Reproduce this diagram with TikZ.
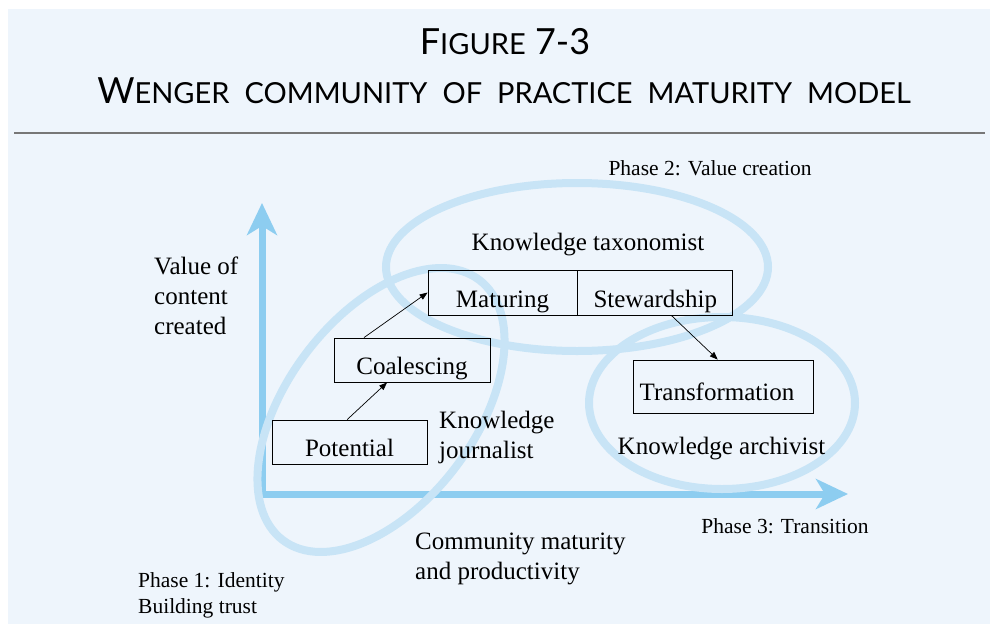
\documentclass[tikz,border=0pt]{standalone}
\usepackage{fontspec}
\setmainfont{Liberation Serif}
\newfontfamily\titlefont{Lato}
\usetikzlibrary{positioning,arrows.meta}
\definecolor{cpbg}{HTML}{EEF5FC}
\definecolor{cpaxis}{HTML}{8DCDF0}
\definecolor{cpring}{HTML}{C8E4F6}
\definecolor{cprule}{HTML}{777777}
\newcommand{\cpbody}{\fontsize{25}{30}\selectfont}
\newcommand{\cpsmall}{\fontsize{21.5}{26}\selectfont}
\newcommand{\cpsc}[1]{{\fontsize{29}{30}\selectfont #1}}
\tikzset{
  title/.style    ={font=\titlefont\fontsize{36}{40}\selectfont, anchor=base, inner sep=0pt},
  axis/.style     ={draw=cpaxis, line width=7pt, -{Stealth[length=32pt,width=30pt,inset=9pt]}},
  phase/.style    ={draw=cpring, line width=8pt},
  stage/.style    ={draw=black, line width=0.8pt, font=\cpbody, inner sep=0pt,
                    text depth=8pt},
  link/.style     ={-{Triangle[length=8pt,width=6pt]}, line width=0.7pt},
  lbl/.style      ={font=\cpbody, align=left, inner sep=0pt},
  phaselbl/.style ={font=\cpsmall, align=left, inner sep=0pt},
}
\begin{document}
\begin{tikzpicture}[x=1pt,y=-1pt]
  \useasboundingbox (0,0) rectangle (990,624);
  \fill[white] (0,0) rectangle (990,624);
  \fill[cpbg] (8,9) rectangle (990,624);
  % heading
  \node[title] (fignum) at (505,54) {F\cpsc{IGURE} 7-3};
  \node[title] (figname) at (504,103) {\spaceskip=15pt W\cpsc{ENGER COMMUNITY OF PRACTICE MATURITY MODEL}};
  \draw[cprule,line width=2pt] (14,133) -- (985,133);
  % axes
  \coordinate (origin) at (262,494);
  \coordinate (ytip) at (262,203);
  \coordinate (xtip) at (848,494);
  \draw[axis] ([yshift=-3.5pt]origin) -- (ytip);
  \draw[axis] ([xshift=-3.5pt]origin) -- (xtip);
  % phases
  \draw[phase,rotate around={53:(381,410)}] (381,410) ellipse [x radius=163,y radius=94];
  \draw[phase] (577,267) ellipse [x radius=191,y radius=84];
  \draw[phase] (722,403) ellipse [x radius=133,y radius=86];
  % stages
  \node[stage,minimum width=149pt,text height=37pt] (mat) at (502.5,292.5) {Maturing};
  \node[stage,minimum width=155pt,text height=37pt,right=0pt of mat] (stew) {Stewardship};
  \node[stage,minimum width=156pt,text height=36pt] (coal) at (412,360) {Coalescing};
  \node[stage,minimum width=155pt,text height=36pt] (pot) at (349.5,442) {Potential};
  \node[stage,minimum width=180pt,text height=40pt,text depth=13pt] (trans) at (723,386.5) {Transformation\kern12pt};
  \draw[link] (pot.96) -- (coal.222);
  \draw[link] (coal.155) -- (mat.west);
  \draw[link] (stew.-55) -- (trans.101);
  % labels
  \node[lbl,anchor=west] (yname) at (154,296) {Value of\\content\\created};
  \node[lbl,anchor=west] (journ) at (439,437) {Knowledge\\journalist};
  \node[lbl,anchor=base] (taxon) at (588,250) {Knowledge taxonomist};
  \node[lbl,anchor=base] (archiv) at (721.5,454) {Knowledge archivist};
  \node[lbl,anchor=west] (xname) at (415,559) {Community maturity\\and productivity};
  \node[phaselbl,anchor=west] (ph1) at (138,595) {Phase 1: Identity\\Building trust};
  \node[phaselbl,anchor=base] (ph2) at (710,175) {Phase 2: Value creation};
  \node[phaselbl,anchor=base] (ph3) at (785,533) {Phase 3: Transition};
\end{tikzpicture}
\end{document}
